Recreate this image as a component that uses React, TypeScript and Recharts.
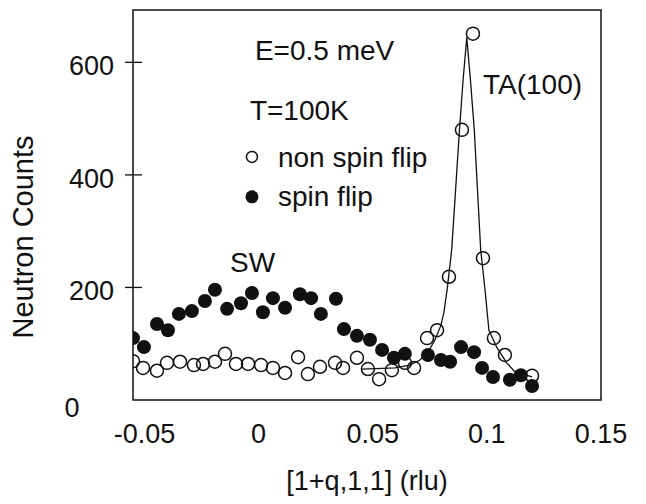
import React from 'react';
import {
  ComposedChart,
  Scatter,
  Line,
  XAxis,
  YAxis,
  ReferenceArea,
  ReferenceDot,
} from 'recharts';

// ---- data ----
const nonSpinFlipQ = [
  -0.055, -0.0506, -0.0445, -0.0401, -0.0344, -0.0283, -0.0243, -0.0191, -0.0147, -0.0099,
  -0.0046, 0.0011, 0.0063, 0.0116, 0.0173, 0.0216, 0.0269, 0.0335, 0.037, 0.0431,
  0.0479, 0.0528, 0.0584, 0.0641, 0.0681, 0.0738, 0.0782, 0.0834, 0.0891, 0.0939,
  0.0983, 0.1031, 0.1079, 0.1198,
];
const nonSpinFlipCounts = [
  69, 57, 52, 66, 68, 62, 64, 68, 82, 64,
  64, 62, 57, 48, 76, 46, 59, 66, 57, 75,
  55, 37, 53, 66, 57, 110, 124, 219, 480, 651,
  252, 110, 80, 43,
];
const spinFlipQ = [
  -0.055, -0.0502, -0.0445, -0.0397, -0.0349, -0.0292, -0.0235, -0.0191, -0.0138, -0.0077,
  -0.0029, 0.0019, 0.0063, 0.0116, 0.0181, 0.023, 0.0273, 0.0339, 0.0374, 0.0431,
  0.0488, 0.0541, 0.0593, 0.0641, 0.0742, 0.0799, 0.0839, 0.0887, 0.0944, 0.0979,
  0.1027, 0.1101, 0.1149, 0.1198,
];
const spinFlipCounts = [
  110, 94, 135, 124, 153, 158, 176, 196, 162, 172,
  190, 156, 181, 164, 188, 181, 153, 180, 126, 114,
  107, 89, 75, 82, 80, 71, 68, 94, 85, 57,
  41, 36, 44, 25,
];
const fitQ = [
  0.0453, 0.0598, 0.0663, 0.0707, 0.0742, 0.0773, 0.0799, 0.0812, 0.0826, 0.0846,
  0.0863, 0.088, 0.0896, 0.0912, 0.0928, 0.0945, 0.0959, 0.0973, 0.0992, 0.1009,
  0.1043, 0.1087, 0.1123, 0.1198,
];
const fitCounts = [
  55, 57, 62, 71, 85, 107, 133, 156, 196, 267,
  373, 480, 569, 644, 569, 480, 373, 267, 196, 124,
  94, 66, 50, 41,
];
const xTicks = [-0.05, 0, 0.05, 0.1, 0.15];
const yTicks = [0, 200, 400, 600];
const xDomain = [-0.055, 0.15];
const yDomain = [0, 693];

const nsfData = nonSpinFlipQ.map((q, i) => ({ q, c: nonSpinFlipCounts[i] }));
const sfData = spinFlipQ.map((q, i) => ({ q, c: spinFlipCounts[i] }));
const fitData = fitQ.map((q, i) => ({ q, c: fitCounts[i] }));

const FONT = '"Liberation Sans", Arial, Helvetica, sans-serif';
const INK = '#111';

const XTick = (props: any) => {
  const { x, y, payload } = props;
  return (
    <text x={x} y={y} dy={43} textAnchor="middle" fontFamily={FONT} fontSize={27} fill={INK}>
      {String(payload.value)}
    </text>
  );
};

const YTick = (props: any) => {
  const { x, y, payload } = props;
  if (payload.value === 0) {
    return (
      <text x={x - 61} y={y} dy={17} textAnchor="middle" fontFamily={FONT} fontSize={27} fill={INK}>
        0
      </text>
    );
  }
  return (
    <g>
      <line x1={x - 8} x2={x + 9} y1={y} y2={y} stroke={INK} strokeWidth={1.3} />
      <text x={x - 19} y={y} dy={13} textAnchor="end" fontFamily={FONT} fontSize={27} fill={INK}>
        {String(payload.value)}
      </text>
    </g>
  );
};

const openCircle = (p: any) => (
  <circle cx={p.cx} cy={p.cy} r={6.5} fill="none" stroke={INK} strokeWidth={1.5} />
);
const filledCircle = (p: any) => <circle cx={p.cx} cy={p.cy} r={7} fill={INK} />;

const textAt = (s: string) => (p: any) => (
  <text x={p.cx} y={p.cy} fontFamily={FONT} fontSize={28} fill={INK}>
    {s}
  </text>
);

export default function App() {
  return (
    <div style={{ position: 'absolute', left: 0, top: 0, background: '#fff' }}>
      <ComposedChart
        width={646}
        height={504}
        margin={{ top: 10, right: 45, left: 0, bottom: 0 }}
      >
        <XAxis
          dataKey="q"
          type="number"
          domain={xDomain}
          ticks={xTicks}
          allowDataOverflow
          tickLine={false}
          tickSize={0}
          tickMargin={0}
          axisLine={false}
          height={104}
          tick={<XTick />}
          label={{
            content: (lp: any) => {
              const vb = lp.viewBox;
              return (
                <text
                  x={vb.x + vb.width / 2}
                  y={490}
                  textAnchor="middle"
                  fontFamily={FONT}
                  fontSize={27}
                  fill={INK}
                >
                  [1+q,1,1] (rlu)
                </text>
              );
            },
          }}
        />
        <YAxis
          dataKey="c"
          type="number"
          domain={yDomain}
          ticks={yTicks}
          allowDataOverflow
          tickLine={false}
          tickSize={0}
          tickMargin={0}
          axisLine={false}
          width={133}
          tick={<YTick />}
          label={{
            content: () => (
              <text
                x={0}
                y={0}
                transform="translate(33,237) rotate(-90)"
                textAnchor="middle"
                fontFamily={FONT}
                fontSize={29}
                fill={INK}
              >
                Neutron Counts
              </text>
            ),
          }}
        />
        <ReferenceArea
          x1={xDomain[0]}
          x2={xDomain[1]}
          y1={yDomain[0]}
          y2={yDomain[1]}
          fill="none"
          fillOpacity={0}
          stroke={INK}
          strokeWidth={1.5}
          ifOverflow="visible"
        />
        <Line
          data={fitData}
          dataKey="c"
          type="linear"
          stroke={INK}
          strokeWidth={1.3}
          dot={false}
          isAnimationActive={false}
        />
        <Scatter data={nsfData} dataKey="c" shape={openCircle} isAnimationActive={false} />
        <Scatter data={sfData} dataKey="c" shape={filledCircle} isAnimationActive={false} />

        <ReferenceDot x={-0.0016} y={604} r={0} shape={textAt('E=0.5 meV')} ifOverflow="visible" />
        <ReferenceDot x={-0.0038} y={498} r={0} shape={textAt('T=100K')} ifOverflow="visible" />
        <ReferenceDot x={-0.0029} y={432} r={0} shape={(p: any) => (
          <circle cx={p.cx} cy={p.cy} r={5.5} fill="none" stroke={INK} strokeWidth={1.5} />
        )} ifOverflow="visible" />
        <ReferenceDot x={0.0085} y={414} r={0} shape={textAt('non spin flip')} ifOverflow="visible" />
        <ReferenceDot x={-0.0029} y={361} r={0} shape={(p: any) => (
          <circle cx={p.cx} cy={p.cy} r={6.5} fill={INK} />
        )} ifOverflow="visible" />
        <ReferenceDot x={0.0085} y={345} r={0} shape={textAt('spin flip')} ifOverflow="visible" />
        <ReferenceDot x={0.0983} y={544} r={0} shape={textAt('TA(100)')} ifOverflow="visible" />
        <ReferenceDot x={-0.0125} y={227} r={0} shape={textAt('SW')} ifOverflow="visible" />
      </ComposedChart>
    </div>
  );
}
